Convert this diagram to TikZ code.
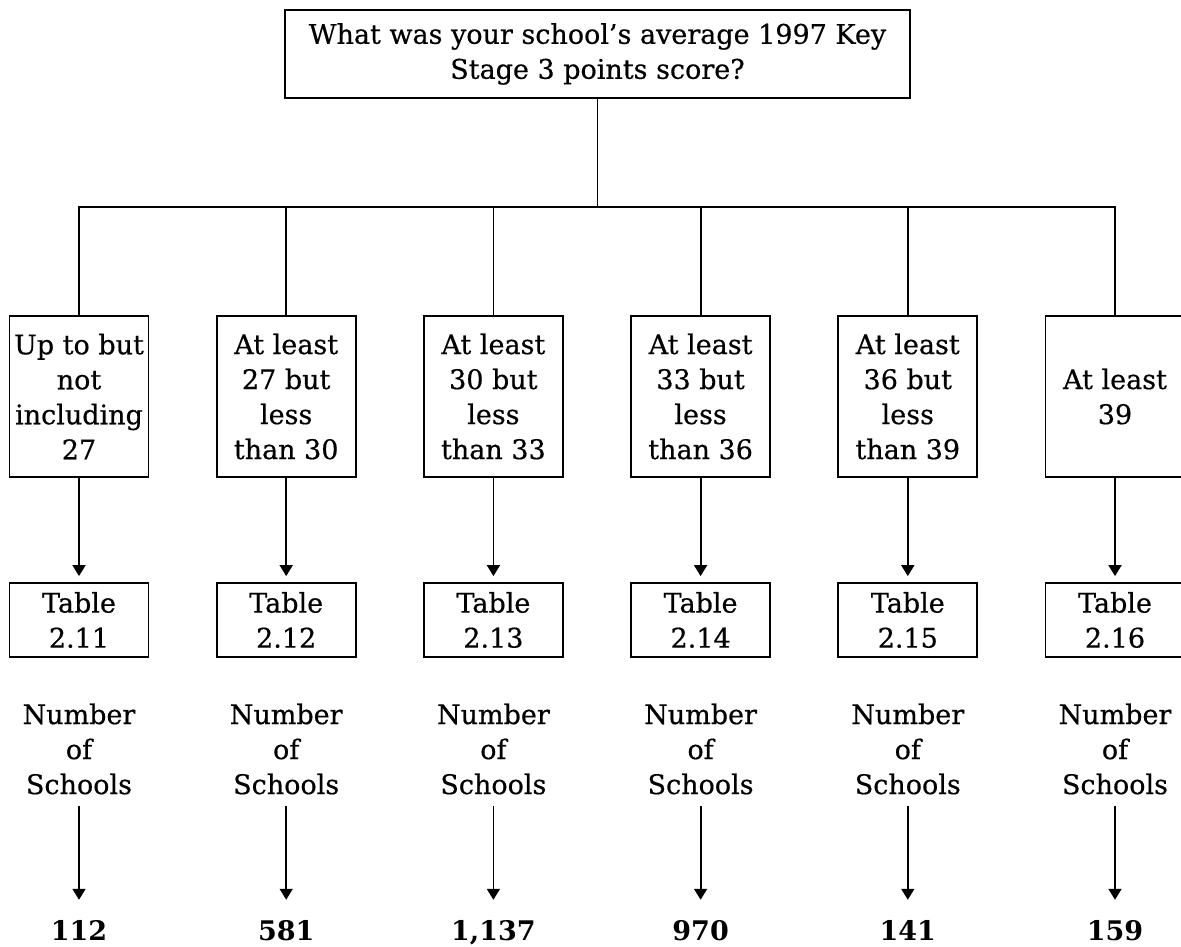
\documentclass[tikz,border=0pt]{standalone}
\usepackage{fontspec}
\setmainfont{DejaVu Serif}[UprightFeatures={FakeBold=0.5}]
\usetikzlibrary{arrows.meta}

\begin{document}
\begin{tikzpicture}[x=1pt,y=1pt,
  txt/.style={align=center,inner sep=0pt,font=\fontsize{27}{35}\selectfont},
  box/.style={txt,draw,line width=1.8pt,minimum width=139pt},
  arr/.style={line width=1.8pt,-{Triangle[length=11pt,width=13pt]}}]
  \useasboundingbox (0,0) rectangle (1181,-946);
  \node[box,minimum width=625pt,minimum height=88pt] (q) at (597.5,-54)
    {What was your school's average 1997 Key\\Stage 3 points score?};
  \coordinate (bar) at (0,-207);
  \foreach \r/\t/\v [count=\i] in {
      {Up to but\\not\\including\\27}/2.11/112,
      {At least\\27 but\\less\\than 30}/2.12/581,
      {At least\\30 but\\less\\than 33}/2.13/{1,137},
      {At least\\33 but\\less\\than 36}/2.14/970,
      {At least\\36 but\\less\\than 39}/2.15/141,
      {At least\\39}/2.16/159} {
    \pgfmathsetmacro\cx{79+207.2*(\i-1)}
    \node[box,minimum height=161pt] (r\i) at (\cx,-396.5) {\r};
    \node[box,minimum height=74pt] (t\i) at (\cx,-620) {Table\\\t};
    \node[txt] (n\i) at (\cx,-749) {Number\\of\\Schools};
    \node[txt,font=\bfseries\fontsize{27}{35}\selectfont,anchor=base] (v\i) at (\cx,-940) {\v};
    \draw[line width=1.8pt] (q.south) -- (q.south |- bar) -| (r\i.north);
    \draw[arr,shorten >=6pt] (r\i.south) -- (t\i.north);
    \draw[arr,shorten <=11pt,shorten >=20pt] (n\i.south) -- (n\i.south |- v\i.north);
  }
\end{tikzpicture}
\end{document}
